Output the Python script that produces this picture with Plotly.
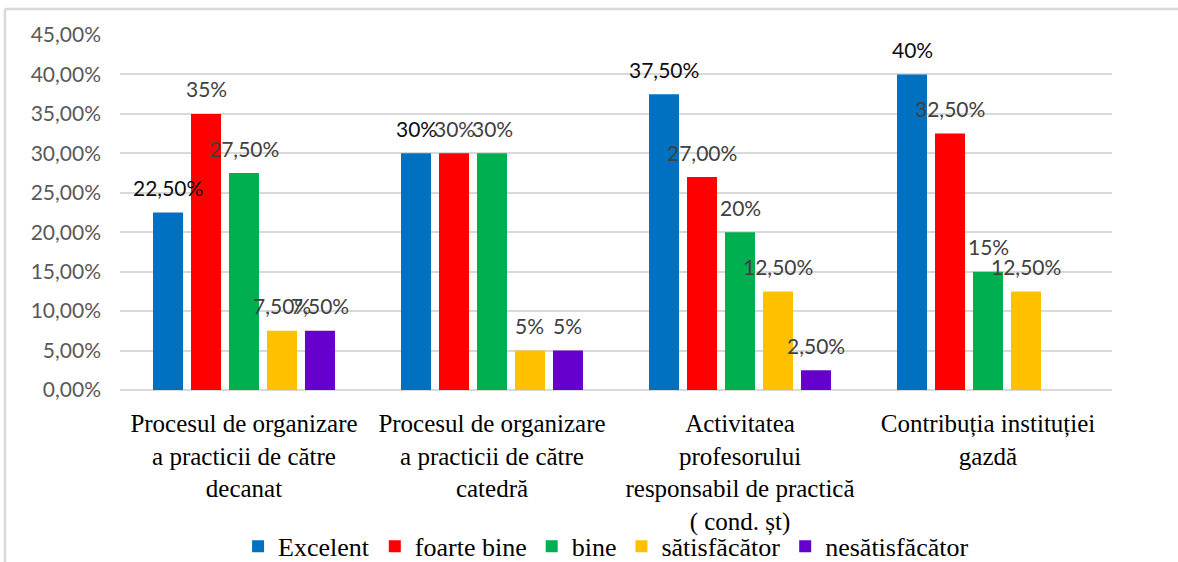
import plotly.graph_objects as go

categories = [
    "Procesul de organizare<br>a practicii de către<br>decanat",
    "Procesul de organizare<br>a practicii de către<br>catedră",
    "Activitatea<br>profesorului<br>responsabil de practică<br>( cond. șt)",
    "Contribuția instituției<br>gazdă",
]
series_names = ["Excelent", "foarte bine", "bine", "sătisfăcător", "nesătisfăcător"]
excelent = [22.5, 30, 37.5, 40]
foarte_bine = [35, 30, 27, 32.5]
bine = [27.5, 30, 20, 15]
satisfacator = [7.5, 5, 12.5, 12.5]
nesatisfacator = [7.5, 5, 2.5, None]
label_excelent = ["22,50%", "30%", "37,50%", "40%"]
label_foarte_bine = ["35%", "30%", "27,00%", "32,50%"]
label_bine = ["27,50%", "30%", "20%", "15%"]
label_satisfacator = ["7,50%", "5%", "12,50%", "12,50%"]
label_nesatisfacator = ["7,50%", "5%", "2,50%", None]
y_ticks = [0, 5, 10, 15, 20, 25, 30, 35, 40, 45]
y_tick_text = ["0,00%", "5,00%", "10,00%", "15,00%", "20,00%", "25,00%",
               "30,00%", "35,00%", "40,00%", "45,00%"]

colors = ["#0070C0", "#FF0000", "#00B050", "#FFC000", "#6600CC"]
label_colors = ["#0d0d0d", "#404040", "#404040", "#404040", "#404040"]
values = [excelent, foarte_bine, bine, satisfacator, nesatisfacator]
labels = [label_excelent, label_foarte_bine, label_bine, label_satisfacator, label_nesatisfacator]

SERIF = "Liberation Serif"
SANS = "Lato"

BARGAP = 0.234
GROUPGAP = 0.21
N = len(values)

fig = go.Figure()
for name, vals, col in zip(series_names, values, colors):
    fig.add_trace(go.Bar(
        x=categories, y=vals, name=name,
        marker=dict(color=col, line=dict(width=0)),
    ))

annotations = []
slot = (1 - BARGAP) / N
for k, (vals, labs) in enumerate(zip(values, labels)):
    for i, (v, t) in enumerate(zip(vals, labs)):
        if v is None or t is None:
            continue
        annotations.append(dict(
            x=i + (k - (N - 1) / 2) * slot, y=v, xref="x", yref="y",
            text=t, showarrow=False, yanchor="middle", xanchor="center",
            yshift=25,
            font=dict(family=SANS, size=21, color=label_colors[k]),
        ))

shapes = [
    dict(type="line", xref="paper", yref="paper", x0=-0.116, x1=1.2, y0=1.073, y1=1.073,
         line=dict(color="#d9d9d9", width=2.5)),
    dict(type="line", xref="paper", yref="paper", x0=-0.116, x1=-0.116, y0=1.073, y1=-0.6,
         line=dict(color="#d9d9d9", width=2.5)),
]

fig.update_layout(
    width=1178, height=562,
    margin=dict(l=120, r=66, t=35, b=172, autoexpand=False),
    paper_bgcolor="white", plot_bgcolor="white",
    barmode="group", bargap=BARGAP, bargroupgap=GROUPGAP,
    showlegend=True,
    legend=dict(orientation="h", x=0.49, xanchor="center",
                yref="container", y=0.028, yanchor="middle",
                bgcolor="rgba(0,0,0,0)",
                font=dict(family=SERIF, size=26, color="#000000"),
                itemwidth=30, tracegroupgap=0),
    annotations=annotations,
    shapes=shapes,
    xaxis=dict(
        tickfont=dict(family=SERIF, size=25, color="#000000"),
        showline=False, showgrid=False, ticks="", ticklabelstandoff=16,
    ),
    yaxis=dict(
        range=[0, 45], tickvals=y_ticks, ticktext=y_tick_text,
        showgrid=True, gridcolor="#d9d9d9", gridwidth=1.5,
        zeroline=True, zerolinecolor="#d9d9d9", zerolinewidth=1.5,
        showline=False, ticks="",
        tickfont=dict(family=SANS, size=21, color="#595959"),
        ticklabelstandoff=18,
    ),
)

fig.write_html("out.html")
